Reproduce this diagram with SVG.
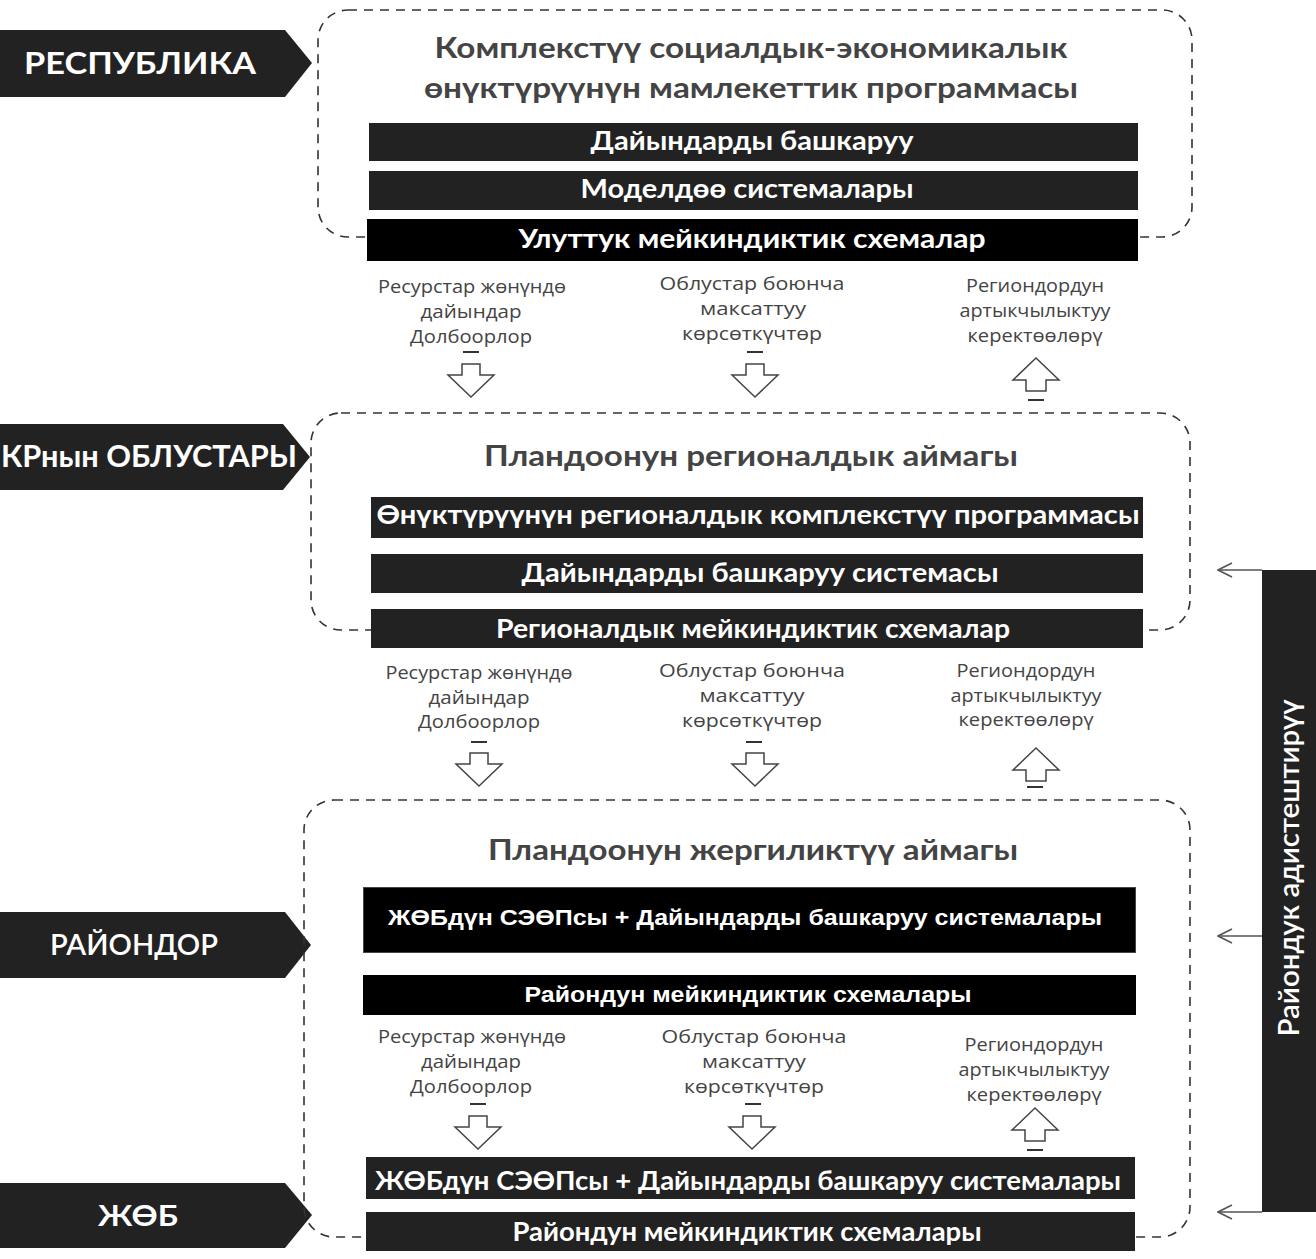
<svg xmlns="http://www.w3.org/2000/svg" width="1316" height="1259" viewBox="0 0 1316 1259">
<style>
.bg{fill:#ffffff}
.lbl{fill:#222222}
.lbltx{fill:#ffffff;font-family:Lato,"Open Sans",sans-serif;font-weight:700;font-size:30px;text-anchor:middle}
.zone{fill:none;stroke:#333333;stroke-width:1.6;stroke-dasharray:9 7}
.title{fill:#444444;font-family:Lato,"Open Sans",sans-serif;font-weight:700;font-size:28px;text-anchor:middle}
.bar{fill:#222222}
.barb{fill:#000000}
.barbk{fill:#000000;stroke:#444444;stroke-width:1}
.bartx{fill:#ffffff;font-family:Lato,"Open Sans",sans-serif;font-weight:700;font-size:26px;text-anchor:middle}
.bartn{fill:#ffffff;font-family:"Liberation Sans",Arial,sans-serif;font-weight:700;font-size:22px;text-anchor:middle}
.note{fill:#444444;font-family:"Open Sans","Noto Sans",sans-serif;font-size:18px;text-anchor:middle}
.harrow{fill:#ffffff;stroke:#444444;stroke-width:1.5;stroke-linejoin:miter}
.tick{stroke:#333333;stroke-width:2}
.conn{fill:none;stroke:#555555;stroke-width:1.6}
</style>
<defs>
<marker id="open" viewBox="0 0 16 16" refX="15" refY="8" markerWidth="16" markerHeight="16" markerUnits="userSpaceOnUse" orient="auto">
<path d="M1,1 L15,8 L1,15" fill="none" stroke="#555555" stroke-width="1.6"/>
</marker>
<path id="down" d="M-9,0 H9 V11 H23 L0,33 L-23,11 H-9 Z"/>
<path id="up" d="M0,0 L23,22 H10 V33 H-10 V22 H-23 Z"/>
</defs>
<rect class="bg" x="0" y="0" width="1316" height="1259"/>

<!-- Level labels -->
<g id="label-respublika">
<polygon class="lbl" points="0,30 285,30 312,63 285,97 0,97"/>
<text class="lbltx" x="140" y="74" textLength="232" lengthAdjust="spacingAndGlyphs">РЕСПУБЛИКА</text>
</g>
<g id="label-oblustar">
<polygon class="lbl" points="0,424 283,424 310,457 283,490 0,490"/>
<text class="lbltx" x="149" y="467" textLength="296" lengthAdjust="spacingAndGlyphs">КРнын ОБЛУСТАРЫ</text>
</g>
<g id="label-raiondor">
<polygon class="lbl" points="0,912 285,912 311,945 285,978 0,978"/>
<text class="lbltx" x="134" y="955" style="font-weight:600;font-size:28px" textLength="168" lengthAdjust="spacingAndGlyphs">РАЙОНДОР</text>
</g>
<g id="label-jöb">
<polygon class="lbl" points="0,1183 285,1183 312,1215 285,1248 0,1248"/>
<text class="lbltx" x="138" y="1226" style="font-size:28px" textLength="80" lengthAdjust="spacingAndGlyphs">ЖӨБ</text>
</g>

<!-- Zone 1: Republic -->
<g id="zone-republic">
<rect class="zone" x="318" y="10" width="874" height="227" rx="30" ry="30"/>
<text class="title" x="751" y="58" textLength="633" lengthAdjust="spacingAndGlyphs">Комплекстүү социалдык-экономикалык</text>
<text class="title" x="751" y="98" textLength="654" lengthAdjust="spacingAndGlyphs">өнүктүрүүнүн мамлекеттик программасы</text>
</g>
<g id="bar-dayindar">
<rect class="bar" x="369" y="123" width="769" height="38"/>
<text class="bartx" x="752" y="150" textLength="323" lengthAdjust="spacingAndGlyphs">Дайындарды башкаруу</text>
</g>
<g id="bar-modeldoo">
<rect class="bar" x="369" y="171" width="769" height="39"/>
<text class="bartx" x="747" y="198" textLength="333" lengthAdjust="spacingAndGlyphs">Моделдөө системалары</text>
</g>
<g id="bar-uluttuk">
<rect class="barb" x="367" y="219" width="771" height="42"/>
<text class="bartx" x="752" y="248" textLength="467" lengthAdjust="spacingAndGlyphs">Улуттук мейкиндиктик схемалар</text>
</g>

<!-- Flow notes 1 -->
<g id="flow1-resources">
<text class="note" x="472" y="293" textLength="188" lengthAdjust="spacingAndGlyphs">Ресурстар жөнүндө</text>
<text class="note" x="471" y="318" textLength="101" lengthAdjust="spacingAndGlyphs">дайындар</text>
<text class="note" x="471" y="343" textLength="122" lengthAdjust="spacingAndGlyphs">Долбоорлор</text>
</g>
<g id="flow1-targets">
<text class="note" x="752" y="290" textLength="185" lengthAdjust="spacingAndGlyphs">Облустар боюнча</text>
<text class="note" x="753" y="315" textLength="106" lengthAdjust="spacingAndGlyphs">максаттуу</text>
<text class="note" x="752" y="340" textLength="140" lengthAdjust="spacingAndGlyphs">көрсөткүчтөр</text>
</g>
<g id="flow1-needs">
<text class="note" x="1035" y="292" textLength="138" lengthAdjust="spacingAndGlyphs">Региондордун</text>
<text class="note" x="1035" y="317" textLength="151" lengthAdjust="spacingAndGlyphs">артыкчылыктуу</text>
<text class="note" x="1035" y="342" textLength="135" lengthAdjust="spacingAndGlyphs">керектөөлөрү</text>
</g>

<!-- Zone 2: Regions -->
<g id="zone-regional">
<rect class="zone" x="311" y="413" width="879" height="217" rx="30" ry="30"/>
<text class="title" x="751" y="466" textLength="534" lengthAdjust="spacingAndGlyphs">Пландоонун регионалдык аймагы</text>
</g>
<g id="bar-regional-program">
<rect class="bar" x="371" y="497" width="772" height="41"/>
<text class="bartx" x="758" y="524" textLength="763" lengthAdjust="spacingAndGlyphs">Өнүктүрүүнүн регионалдык комплекстүү программасы</text>
</g>
<g id="bar-data-system">
<rect class="bar" x="371" y="554" width="772" height="39"/>
<text class="bartx" x="760" y="582" textLength="477" lengthAdjust="spacingAndGlyphs">Дайындарды башкаруу системасы</text>
</g>
<g id="bar-regional-schemes">
<rect class="bar" x="371" y="609" width="772" height="39"/>
<text class="bartx" x="753" y="638" textLength="514" lengthAdjust="spacingAndGlyphs">Регионалдык мейкиндиктик схемалар</text>
</g>

<!-- Flow notes 2 -->
<g id="flow2-resources">
<text class="note" x="479" y="679" textLength="187" lengthAdjust="spacingAndGlyphs">Ресурстар жөнүндө</text>
<text class="note" x="479" y="704" textLength="101" lengthAdjust="spacingAndGlyphs">дайындар</text>
<text class="note" x="479" y="728" textLength="122" lengthAdjust="spacingAndGlyphs">Долбоорлор</text>
</g>
<g id="flow2-targets">
<text class="note" x="752" y="677" textLength="186" lengthAdjust="spacingAndGlyphs">Облустар боюнча</text>
<text class="note" x="752" y="702" textLength="105" lengthAdjust="spacingAndGlyphs">максаттуу</text>
<text class="note" x="752" y="727" textLength="140" lengthAdjust="spacingAndGlyphs">көрсөткүчтөр</text>
</g>
<g id="flow2-needs">
<text class="note" x="1026" y="677" textLength="139" lengthAdjust="spacingAndGlyphs">Региондордун</text>
<text class="note" x="1026" y="702" textLength="151" lengthAdjust="spacingAndGlyphs">артыкчылыктуу</text>
<text class="note" x="1026" y="726" textLength="135" lengthAdjust="spacingAndGlyphs">керектөөлөрү</text>
</g>

<!-- Zone 3: Local -->
<g id="zone-local">
<rect class="zone" x="304" y="800" width="886" height="437" rx="30" ry="30"/>
<text class="title" x="753" y="860" textLength="530" lengthAdjust="spacingAndGlyphs">Пландоонун жергиликтүү аймагы</text>
</g>
<g id="bar-local-program">
<rect class="barbk" x="363.5" y="887.5" width="772" height="65"/>
<text class="bartn" x="745" y="925" textLength="714" lengthAdjust="spacingAndGlyphs">ЖӨБдүн СЭӨПсы + Дайындарды башкаруу системалары</text>
</g>
<g id="bar-district-schemes">
<rect class="barb" x="363" y="975" width="773" height="40"/>
<text class="bartn" x="748" y="1002" textLength="447" lengthAdjust="spacingAndGlyphs">Райондун мейкиндиктик схемалары</text>
</g>

<!-- Flow notes 3 -->
<g id="flow3-resources">
<text class="note" x="472" y="1043" textLength="188" lengthAdjust="spacingAndGlyphs">Ресурстар жөнүндө</text>
<text class="note" x="471" y="1068" textLength="100" lengthAdjust="spacingAndGlyphs">дайындар</text>
<text class="note" x="471" y="1093" textLength="122" lengthAdjust="spacingAndGlyphs">Долбоорлор</text>
</g>
<g id="flow3-targets">
<text class="note" x="754" y="1043" textLength="185" lengthAdjust="spacingAndGlyphs">Облустар боюнча</text>
<text class="note" x="754" y="1068" textLength="104" lengthAdjust="spacingAndGlyphs">максаттуу</text>
<text class="note" x="754" y="1093" textLength="140" lengthAdjust="spacingAndGlyphs">көрсөткүчтөр</text>
</g>
<g id="flow3-needs">
<text class="note" x="1034" y="1051" textLength="139" lengthAdjust="spacingAndGlyphs">Региондордун</text>
<text class="note" x="1034" y="1076" textLength="151" lengthAdjust="spacingAndGlyphs">артыкчылыктуу</text>
<text class="note" x="1034" y="1101" textLength="135" lengthAdjust="spacingAndGlyphs">керектөөлөрү</text>
</g>

<g id="bar-jöb-program">
<rect class="bar" x="366" y="1157" width="769" height="42"/>
<text class="bartx" x="748" y="1190" textLength="746" lengthAdjust="spacingAndGlyphs">ЖӨБдүн СЭӨПсы + Дайындарды башкаруу системалары</text>
</g>
<g id="bar-jöb-schemes">
<rect class="bar" x="366" y="1212" width="769" height="39"/>
<text class="bartx" x="747" y="1241" textLength="469" lengthAdjust="spacingAndGlyphs">Райондун мейкиндиктик схемалары</text>
</g>

<!-- Specialisation bar -->
<g id="district-specialisation">
<rect class="bar" x="1262" y="570" width="54" height="642"/>
<text class="bartx" transform="translate(1299,868) rotate(-90)" x="0" y="0" style="font-weight:600;font-size:28px" textLength="337" lengthAdjust="spacingAndGlyphs">Райондук адистештирүү</text>
</g>

<!-- Connectors -->
<g id="connectors">
<line class="tick" x1="463" y1="352" x2="479" y2="352"/>
<use href="#down" class="harrow" x="471" y="364"/>
<line class="tick" x1="747" y1="352" x2="763" y2="352"/>
<use href="#down" class="harrow" x="755" y="364"/>
<use href="#up" class="harrow" x="1036" y="358"/>
<line class="tick" x1="1028" y1="400" x2="1044" y2="400"/>

<line class="tick" x1="471" y1="742" x2="487" y2="742"/>
<use href="#down" class="harrow" x="479" y="753"/>
<line class="tick" x1="746" y1="742" x2="762" y2="742"/>
<use href="#down" class="harrow" x="755" y="753"/>
<use href="#up" class="harrow" x="1036" y="748"/>
<line class="tick" x1="1027" y1="787" x2="1043" y2="787"/>

<line class="tick" x1="470" y1="1104" x2="486" y2="1104"/>
<use href="#down" class="harrow" x="478" y="1116"/>
<line class="tick" x1="745" y1="1104" x2="761" y2="1104"/>
<use href="#down" class="harrow" x="752" y="1116"/>
<use href="#up" class="harrow" x="1035" y="1108"/>
<line class="tick" x1="1027" y1="1150" x2="1043" y2="1150"/>

<line class="conn" x1="1262" y1="570" x2="1218" y2="570" marker-end="url(#open)"/>
<line class="conn" x1="1262" y1="936" x2="1218" y2="936" marker-end="url(#open)"/>
<line class="conn" x1="1262" y1="1212" x2="1218" y2="1212" marker-end="url(#open)"/>
</g>
</svg>
